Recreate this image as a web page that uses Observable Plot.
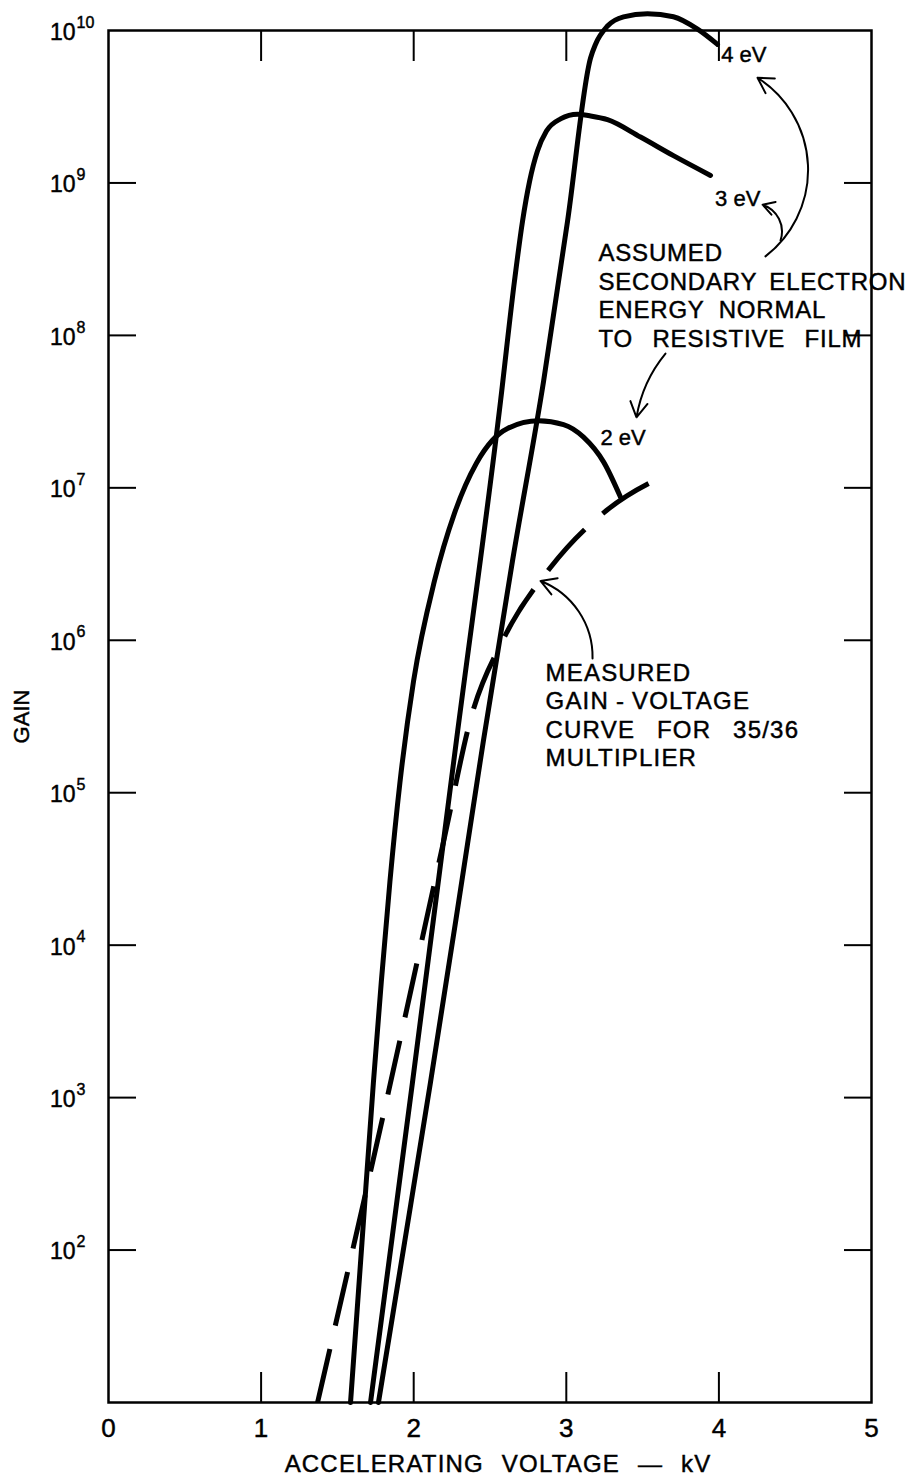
<!DOCTYPE html>
<html><head><meta charset="utf-8">
<script src="https://cdn.jsdelivr.net/npm/d3@7"></script>
<script src="https://cdn.jsdelivr.net/npm/@observablehq/plot@0.6"></script>
<style>
body{margin:0;background:#fff}
</style></head><body><div id="chart"></div>
<script>
// Curves: accelerating voltage (kV) and gain
const ev2Volt = [1.586, 1.661, 1.736, 1.788, 1.844, 1.910, 1.999, 2.136, 2.267, 2.411, 2.516, 2.615, 2.818, 2.982, 3.113, 3.244, 3.355];
const ev2Gain = [10, 112, 1.26e3, 5.8e3, 2.6e4, 1.17e5, 5.4e5, 2.45e6, 6.8e6, 1.45e7, 2.05e7, 2.45e7, 2.75e7, 2.6e7, 2.15e7, 1.48e7, 8.7e6];

const ev3Volt = [1.717, 1.992, 2.280, 2.569, 2.661, 2.713, 2.759, 2.811, 2.870, 2.962, 3.073, 3.159, 3.270, 3.486, 3.702, 3.945];
const ev3Gain = [10, 1.26e3, 2.2e5, 3.7e7, 2.3e8, 5.6e8, 1.02e9, 1.62e9, 2.19e9, 2.63e9, 2.82e9, 2.75e9, 2.6e9, 2.0e9, 1.51e9, 1.12e9];

const ev4Volt = [1.769, 1.940, 2.110, 2.274, 2.457, 2.647, 2.851, 3.008, 3.159, 3.191, 3.270, 3.375, 3.532, 3.702, 3.860, 3.991];
const ev4Gain = [10, 112, 1.26e3, 1.41e4, 2.2e5, 3.3e6, 5.0e7, 5.6e8, 6.6e9, 8.1e9, 1.07e10, 1.23e10, 1.29e10, 1.23e10, 1.02e10, 8.1e9];

const measVolt = [1.370, 1.815, 2.202, 2.379, 2.588, 2.896, 3.263, 3.565, 3.670];
const measGain = [10, 890, 5.1e4, 3.2e5, 1.02e6, 3.0e6, 7.1e6, 1.1e7, 1.23e7];

// Ticks
const xTickLabels = [0, 1, 2, 3, 4, 5];
const xInnerTicks = [1, 2, 3, 4];
const yTickLabels = [1e2, 1e3, 1e4, 1e5, 1e6, 1e7, 1e8, 1e9, 1e10];
const yInnerTicks = [1e2, 1e3, 1e4, 1e5, 1e6, 1e7, 1e8, 1e9];

// Annotations
const curveLabelText = ["4 eV", "3 eV", "2 eV"];
const curveLabelVolt = [4.015, 3.975, 3.224];
const curveLabelGain = [6.86e9, 7.9e8, 2.14e7];

const noteText = ["ASSUMED\nSECONDARY ELECTRON\nENERGY NORMAL\nTO RESISTIVE FILM", "MEASURED\nGAIN - VOLTAGE\nCURVE FOR 35/36\nMULTIPLIER"];
const noteVolt = [3.211, 2.864];
const noteGain = [4.16e8, 7.37e5];

const arrow4 = {x1: 4.305, y1: 3.3e8, x2: 4.253, y2: 4.9e9};
const arrow3 = {x1: 4.404, y1: 4.2e8, x2: 4.286, y2: 7.2e8};
const arrow2 = {x1: 3.650, y1: 7.6e7, x2: 3.460, y2: 2.9e7};
const arrowM = {x1: 3.172, y1: 7.6e5, x2: 2.831, y2: 2.45e6};

const rows = (v, g) => v.map((x, i) => ({v: x, g: g[i]}));
const labels = curveLabelText.map((t, i) => ({t, v: curveLabelVolt[i], g: curveLabelGain[i]}));
const notes = noteText.map((t, i) => ({t, v: noteVolt[i], g: noteGain[i]}));

const lineOpts = {x: "v", y: "g", stroke: "black", strokeWidth: 5, curve: "monotone-x", strokeLinecap: "round"};
const arrowOpts = {x1: "x1", y1: "y1", x2: "x2", y2: "y2", stroke: "black", strokeWidth: 2, headLength: 13};

const chart = Plot.plot({
  width: 911, height: 1477,
  marginLeft: 108, marginRight: 40, marginTop: 30, marginBottom: 75,
  x: {domain: [0, 5], label: null},
  y: {type: "log", domain: [10, 1e10], label: null},
  style: {fontFamily: "'Liberation Sans', Arial, sans-serif", background: "white", color: "black"},
  marks: [
    Plot.frame({stroke: "black", strokeWidth: 2.5}),
    Plot.axisX({anchor: "bottom", ticks: xInnerTicks, tickSize: 30, dy: -30, strokeWidth: 2, tickFormat: () => ""}),
    Plot.axisX({anchor: "top", ticks: xInnerTicks, tickSize: 30, dy: 30, strokeWidth: 2, tickFormat: () => ""}),
    Plot.axisY({anchor: "left", ticks: yInnerTicks, tickSize: 28, dx: 28, strokeWidth: 2, tickFormat: () => ""}),
    Plot.axisY({anchor: "right", ticks: yInnerTicks, tickSize: 28, dx: -28, strokeWidth: 2, tickFormat: () => ""}),
    Plot.axisX({anchor: "bottom", ticks: xTickLabels, tickSize: 0, tickPadding: 16, fontSize: 26, tickFormat: d => String(d)}),
    Plot.axisY({anchor: "left", ticks: yTickLabels, tickSize: 0, tickPadding: 33, fontSize: 23, dy: 2, tickFormat: () => "10"}),
    Plot.axisY({anchor: "left", ticks: yTickLabels, tickSize: 0, tickPadding: 32, textAnchor: "start", fontSize: 16, dy: -8, tickFormat: d => String(Math.round(Math.log10(d)))}),
    Plot.text(["ACCELERATING VOLTAGE — kV"], {frameAnchor: "bottom", lineAnchor: "middle", textAnchor: "middle", dy: 62, dx: 8, fontSize: 24}),
    Plot.text(["GAIN"], {frameAnchor: "left", textAnchor: "middle", lineAnchor: "middle", dx: -87, rotate: -90, fontSize: 22}),
    Plot.line(rows(measVolt, measGain), {...lineOpts, strokeDasharray: "55,24", strokeLinecap: "butt"}),
    Plot.line(rows(ev2Volt, ev2Gain), lineOpts),
    Plot.line(rows(ev3Volt, ev3Gain), lineOpts),
    Plot.line(rows(ev4Volt, ev4Gain), lineOpts),
    Plot.text(labels, {x: "v", y: "g", text: "t", textAnchor: "start", fontSize: 22}),
    Plot.text(notes, {x: "v", y: "g", text: "t", textAnchor: "start", lineAnchor: "top", lineHeight: 1.19, fontSize: 24}),
    Plot.arrow([arrow4], {...arrowOpts, bend: -55}),
    Plot.arrow([arrow3], {...arrowOpts, bend: -45}),
    Plot.arrow([arrow2], {...arrowOpts, bend: -15}),
    Plot.arrow([arrowM], {...arrowOpts, bend: -35})
  ]
});
// Lettering weight and spacing (style only)
const texts = d3.select(chart).selectAll("text");
texts.style("stroke", "black").style("stroke-width", "0.45px");
texts.filter(function () { return this.textContent.startsWith("ACCELERATING"); })
  .style("letter-spacing", "1.2px").style("word-spacing", "10px");
texts.filter(function () { return this.textContent.startsWith("ASSUMED"); }).style("letter-spacing", "0.8px");
texts.filter(function () { return this.textContent.startsWith("MEASURED"); }).style("letter-spacing", "1.2px");
const lineWordSpacing = {"SECONDARY ELECTRON": 5, "ENERGY NORMAL": 7, "TO RESISTIVE FILM": 12, "GAIN - VOLTAGE": -1, "CURVE FOR 35/36": 14};
d3.select(chart).selectAll("tspan").each(function () {
  const ws = lineWordSpacing[this.textContent];
  if (ws !== undefined) d3.select(this).style("word-spacing", ws + "px");
});
document.getElementById("chart").appendChild(chart);
</script></body></html>
